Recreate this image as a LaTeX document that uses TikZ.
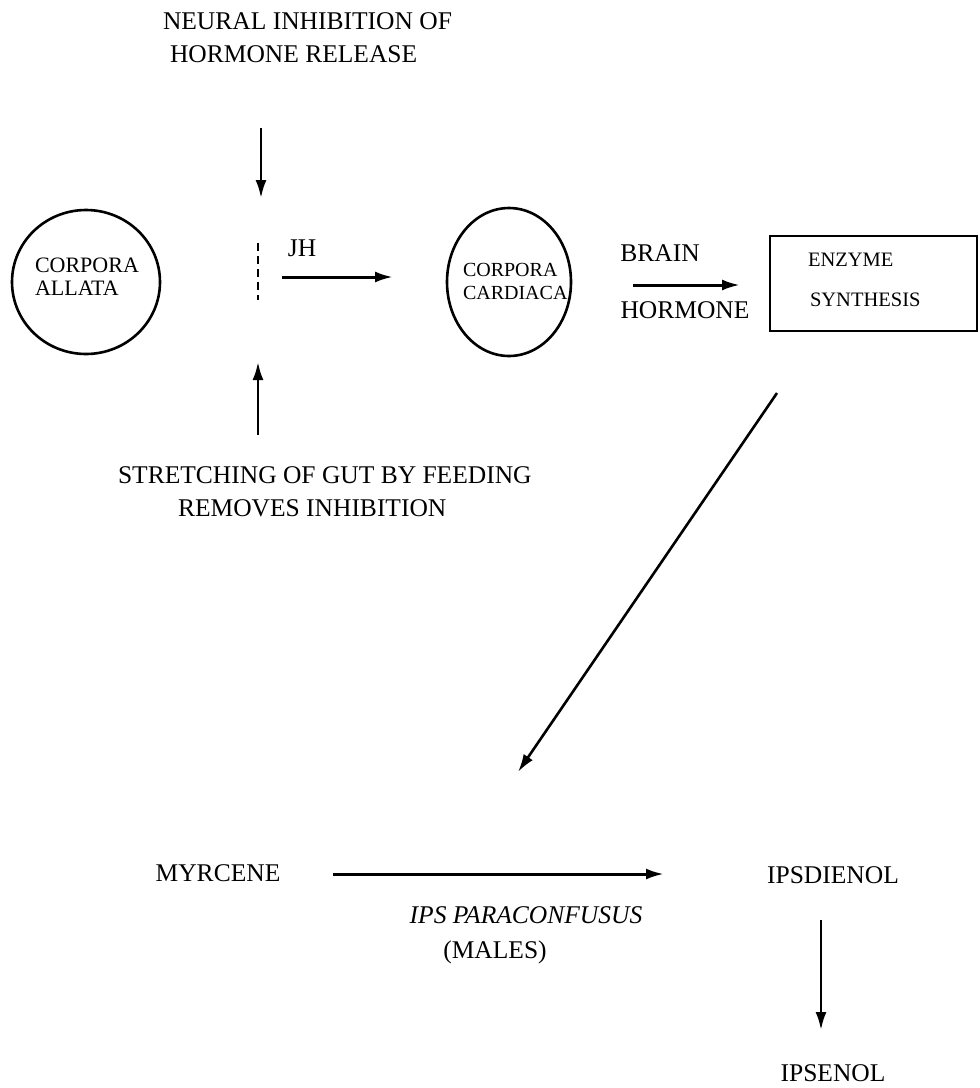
\documentclass[tikz,border=0pt]{standalone}
\usepackage{fontspec}
\setmainfont{Liberation Serif}
\usetikzlibrary{arrows.meta}
\begin{document}
\begin{tikzpicture}[x=1pt,y=-1pt,
  every node/.style={inner sep=0pt,outer sep=0pt},
  main/.style={font=\fontsize{25.5}{33}\selectfont},
  small/.style={font=\fontsize{22}{23}\selectfont, align=left},
  smaller/.style={font=\fontsize{20}{23}\selectfont, align=left},
  boxtxt/.style={font=\fontsize{20.5}{20.5}\selectfont},
  gland/.style={line width=2.6pt},
  arr/.style={line width=3pt, -{Latex[length=18pt,width=11pt]}},
  thinarr/.style={line width=2.6pt, -{Latex[length=18pt,width=11pt]}}
]
\useasboundingbox (0,0) rectangle (980,1088);

% top label
\node[main, anchor=west, align=left] (neural) at (163,38) {NEURAL INHIBITION OF\\\hspace*{7pt}HORMONE RELEASE};

% glands
\draw[gland] (86,282) ellipse [x radius=74, y radius=72];
\node[small, anchor=west] (allata) at (35,277) {CORPORA\\ALLATA};
\draw[gland] (509,282) ellipse [x radius=62, y radius=74];
\node[smaller, anchor=west] (cardiaca) at (463,281) {CORPORA\\CARDIACA};

% inhibition block
\coordinate (dtop) at (258,243);
\coordinate (dbot) at (258,300);
\draw[line width=2.4pt, dash pattern=on 8pt off 5pt] (dtop) -- (dbot);
\coordinate (nstart) at (261,128);
\coordinate (nend) at (261,198);
\draw[thinarr] (nstart) -- (nend);
\coordinate (sstart) at (258,435);
\coordinate (send) at (258,362);
\draw[thinarr] (sstart) -- (send);

% JH
\coordinate (jhs) at (282,277);
\coordinate (jhe) at (393,277);
\draw[arr] (jhs) -- (jhe);
\node[main] (jh) at (302,248) {JH};

% brain hormone
\node[main] (brain) at (660,253) {BRAIN};
\node[main] (hormone) at (685,310) {HORMONE};
\coordinate (bhs) at (633,285);
\coordinate (bhe) at (740,285);
\draw[arr] (bhs) -- (bhe);

% enzyme box
\draw[line width=2.2pt] (770,236) rectangle (977,331);
\node[boxtxt, anchor=west] (enz) at (808,260) {ENZYME};
\node[boxtxt, anchor=west] (syn) at (810,300) {SYNTHESIS};

% stretching label
\node[main, anchor=west, align=left] (stretch) at (118,492) {STRETCHING OF GUT BY FEEDING\\\hspace*{60pt}REMOVES INHIBITION};

% diagonal
\coordinate (diag1) at (777,393);
\coordinate (diag2) at (518,772);
\draw[thinarr] (diag1) -- (diag2);

% lower row
\node[main] (myrcene) at (218,873) {MYRCENE};
\node[main] (ipsdienol) at (833,875) {IPSDIENOL};
\node[main] (ipsenol) at (833,1073) {IPSENOL};
\node[main, font=\fontsize{25.5}{33}\selectfont\itshape] (ips) at (526,915) {IPS PARACONFUSUS};
\node[main] (males) at (495,952) {(MALES)};
\coordinate (ms) at (333,874);
\coordinate (me) at (664,874);
\draw[arr] (ms) -- (me);
\coordinate (ds) at (821,920);
\coordinate (de) at (821,1030);
\draw[thinarr] (ds) -- (de);
\end{tikzpicture}
\end{document}
